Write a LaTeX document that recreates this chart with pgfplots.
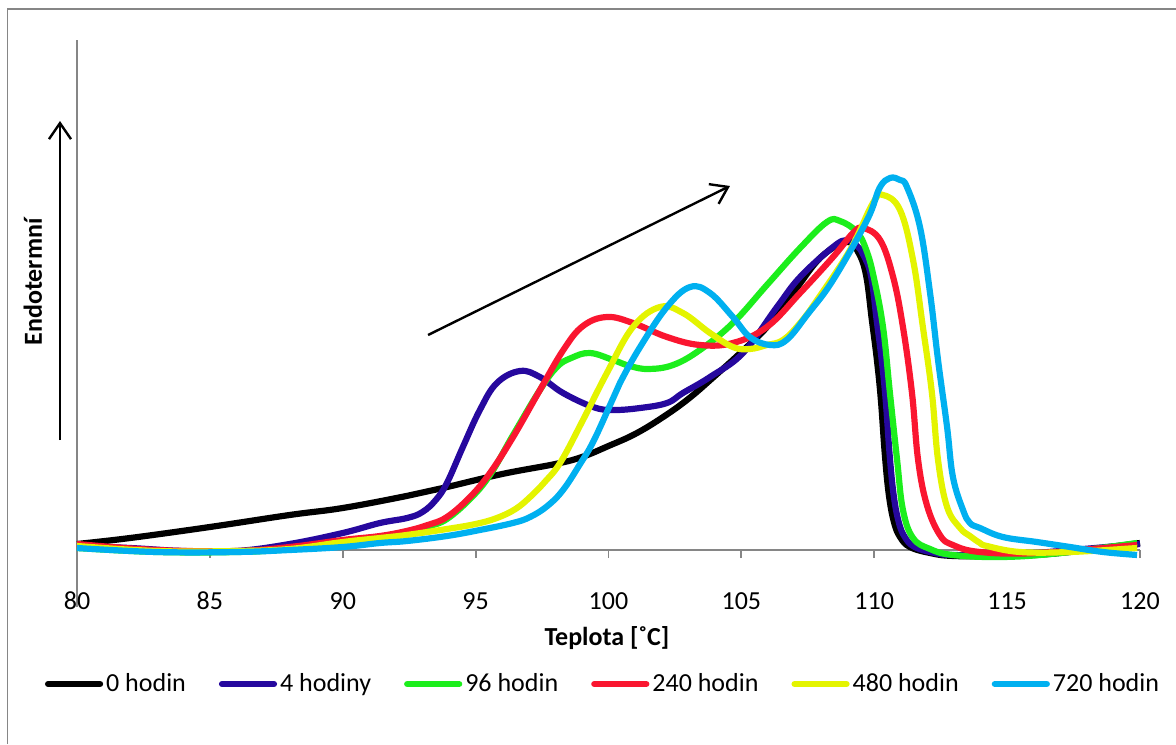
\documentclass[border=0pt]{standalone}
\usepackage{fontspec}
\setmainfont{Carlito}
\usepackage{pgfplots}
\pgfplotsset{compat=1.18}
\usetikzlibrary{arrows.meta}

\definecolor{axisgray}{RGB}{134,134,134}
\definecolor{c0}{RGB}{0,0,0}
\definecolor{c4}{RGB}{38,8,158}
\definecolor{c96}{RGB}{28,238,28}
\definecolor{c240}{RGB}{250,22,48}
\definecolor{c480}{RGB}{228,244,0}
\definecolor{c720}{RGB}{0,176,240}

\newcommand{\chartfont}{\fontsize{13}{15.6}\selectfont}

% DSC curves: temperature [°C] vs. heat flow (arbitrary units, endothermic up)
\pgfplotstableread{
x y
80 6
82 12
85 23
88 35
90 42
92.4 54
93.77 62
96 76
98 86
99 93
100 104
101 116
102 132
103 151
104 174
105 198
106 224
107 259
108 293
108.97 308
109.39 298
109.69 275
109.91 230
110.10 190
110.25 150
110.40 95
110.55 55
110.74 28
110.97 13
111.34 3
112.10 -3
113 -6
115 -6
117 -3
120 7
}\tblA

\pgfplotstableread{
x y
80 4
82 2
84 -1
86 -1
88 6
90 17
91.4 27
92.42 32
93.0 38
93.5 50
93.92 67
94.52 103
95.16 140
95.8 167
96.67 179
97.42 173
98.29 157
99.42 143
100.17 140
101.19 142
102.2 147
102.8 157
103.82 173
105.06 197
106.34 243
107.21 273
108.45 303
108.97 310
109.35 304
109.57 296
109.87 275
110.09 230
110.28 190
110.43 150
110.58 95
110.73 55
110.92 28
111.15 13
111.52 3
112.28 -3
113 -5
115 -5
117 -1
120 6
}\tblB

\pgfplotstableread{
x y
80 2
83 -2
86 -2
88 1
90 8
91.4 13
92.4 17
93.28 24
93.92 31
94.79 51
95.54 75
96.41 115
97.42 160
98.06 183
98.6 192
99.3 197
100.17 190
100.8 184
101.5 181
102.43 185
103.44 200
104.68 227
105.96 265
107.21 302
108.22 328
108.71 329
109.35 318
109.7 300
109.98 273
110.33 223
110.59 157
110.86 90
111.08 40
111.46 12
112.1 1
112.96 -5
114.84 -7
117 -3
119.89 7
}\tblC

\pgfplotstableread{
x y
80 6
83 0
86 -1
88 3
90 10
91.4 14
92.4 19
93.2 25
93.92 33
94.79 53
95.54 77
96.41 113
97.42 160
98.3 200
99.04 224
99.94 233
100.92 227
102.2 213
103.44 205
104.68 207
105.96 223
107.21 257
108.45 293
109.2 317
109.58 322
110.22 310
110.71 273
111.08 223
111.42 157
111.65 90
111.98 45
112.47 15
112.96 5
113.98 -2
116.12 -3
119.89 5
}\tblD

\pgfplotstableread{
x y
80 4
83 -1
86 -1
88 1
90 8
91.4 12
92.4 15
93.92 21
95.0 26
95.8 32
96.5 41
97.05 53
97.6 68
98.2 88
99.04 130
99.94 177
100.92 223
101.94 243
102.8 237
103.82 217
104.68 203
105.32 201
105.96 205
106.57 210
107.21 227
107.85 250
109.09 300
109.95 347
110.33 355
110.97 340
111.46 290
111.83 223
112.17 157
112.4 90
112.74 43
113.23 22
113.6 14
113.98 7
114.24 4
115.48 -2
117.37 -2
119.89 2
}\tblE

\pgfplotstableread{
x y
80 2
83 -2
86 -2
88 0
90 3
91.4 7
92.42 9
93.92 14
95.16 20
96.4 27
97.05 33
97.7 44
98.29 60
98.93 86
99.42 108
100.06 145
100.43 167
101.19 203
102.2 243
103.07 263
103.82 257
104.68 233
105.32 213
106.08 205
106.7 210
107.5 236
108.45 270
109.73 330
110.2 362
110.59 372
110.97 370
111.23 363
111.72 323
112.10 257
112.40 190
112.74 123
112.96 73
113.34 40
113.6 27
113.98 22
114.84 13
116.12 8
117.37 3
118.61 -2
119.89 -5
}\tblF

\begin{document}
\begin{tikzpicture}
\useasboundingbox (0,0) rectangle (588pt,372pt);
% chart frame
\draw[axisgray, line width=0.9pt] (3.75pt,0) -- (3.75pt,367.5pt) -- (588pt,367.5pt);

\begin{axis}[
  at={(38.5pt,68.5pt)}, anchor=south west,
  scale only axis, width=531.5pt, height=283.5pt,
  xmin=80, xmax=120, ymin=-57, ymax=510,
  axis x line=middle, axis y line=left,
  axis line style={axisgray, line width=0.9pt, -},
  xtick={80,85,...,120}, ytick=\empty,
  tick align=outside, major tick length=4pt,
  tick style={axisgray, line width=0.9pt},
  hide obscured x ticks=false,
  /pgf/number format/assume math mode=true,
  xticklabel style={font=\chartfont, anchor=center, yshift=-21.5pt},
  clip=false,
  legend columns=6,
  legend style={at={(0.4953,-0.1358)}, anchor=center, draw=none, fill=none,
    font=\chartfont, inner sep=0pt,
    nodes={inner sep=1.5pt},
    /tikz/every even column/.append style={column sep=15pt}},
  legend image code/.code={\draw[#1, line cap=round] (0pt,0pt) -- (26pt,0pt);},
  every axis plot/.append style={line width=3.1pt, smooth, tension=0.65, line join=round},
]
\addplot[c0] table {\tblA};
\addlegendentry{0 hodin}
\addplot[c4] table {\tblB};
\addlegendentry{4 hodiny}
\addplot[c96] table {\tblC};
\addlegendentry{96 hodin}
\addplot[c240] table {\tblD};
\addlegendentry{240 hodin}
\addplot[c480] table {\tblE};
\addlegendentry{480 hodin}
\addplot[c720] table {\tblF};
\addlegendentry{720 hodin}

% endothermic direction and trend arrows
\draw[line width=1.2pt, -{Straight Barb[length=8pt,width=11pt]}] (axis cs:79.36,110) -- (axis cs:79.36,429);
\draw[line width=1.2pt, -{Straight Barb[length=8pt,width=11pt]}] (axis cs:93.21,215) -- (axis cs:104.57,364);

\node[rotate=90, font=\bfseries\chartfont] at (axis cs:78.34,268) {Endotermní};
\node[font=\bfseries\chartfont] at (axis cs:99.94,-88) {Teplota [˚C]};
\end{axis}
\end{tikzpicture}
\end{document}
